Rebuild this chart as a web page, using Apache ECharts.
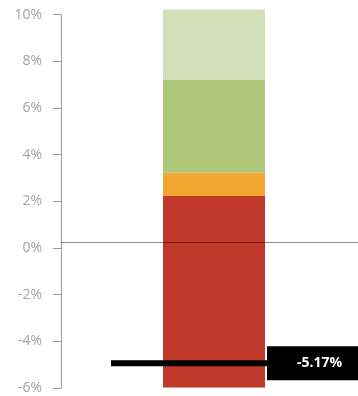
<!DOCTYPE html>
<html>
<head>
<meta charset="utf-8">
<script src="https://cdn.jsdelivr.net/npm/echarts@6/dist/echarts.min.js"></script>
<style>
  html, body { margin: 0; padding: 0; background: #fff; }
  #chart { width: 358px; height: 396px; }
</style>
</head>
<body>
<div id="chart"></div>
<script>
// Value axis ticks (percent)
const axisMin = -6;
const axisMax = 10;
const axisStep = 2;

// One column of stacked ranges, bottom to top
const categories = [''];
const bandLow  = [-6.2, 2, 3, 7];
const bandHigh = [2, 3, 7, 10];
const bandColors = ['#c0392b', '#f2a630', '#aec779', '#d3dfb6'];

// Reference line and current value marker
const zeroLine = 0;
const markerValue = -5.17;

const chart = echarts.init(document.getElementById('chart'), null, { renderer: 'canvas' });

const bandData = bandLow.map((lo, i) => [0, lo, bandHigh[i], i]);

chart.setOption({
  animation: false,
  grid: [
    { left: 61, width: 306, top: 14.7, bottom: 8, outerBoundsMode: 'none', containLabel: false },
    { left: 61, width: 306, top: 9.4, bottom: 8.6, outerBoundsMode: 'none', containLabel: false }
  ],
  xAxis: [
    { type: 'category', data: categories, gridIndex: 0, show: false },
    { type: 'category', data: categories, gridIndex: 1, show: false }
  ],
  yAxis: [
    {
      type: 'value', gridIndex: 0,
      min: axisMin, max: axisMax, interval: axisStep,
      axisLine: { show: true, lineStyle: { color: '#9a9a9a', width: 1 } },
      axisTick: { show: true, length: 8, lineStyle: { color: '#9a9a9a' } },
      splitLine: { show: false },
      axisLabel: {
        color: '#a3a3a3', fontSize: 14, fontFamily: 'Open Sans', margin: 19,
        formatter: '{value}%'
      }
    },
    {
      type: 'value', gridIndex: 1,
      min: -6.2, max: axisMax, show: false,
      splitLine: { show: false }
    }
  ],
  series: [
    {
      type: 'custom',
      xAxisIndex: 1, yAxisIndex: 1,
      data: bandData,
      encode: { x: 0, y: [1, 2] },
      clip: false,
      renderItem: function (params, api) {
        const top = api.coord([api.value(0), api.value(2)]);
        const bottom = api.coord([api.value(0), api.value(1)]);
        const w = api.size([1, 0])[0] / 3;
        return {
          type: 'rect',
          shape: { x: top[0] - w / 2, y: top[1], width: w, height: bottom[1] - top[1] },
          style: { fill: bandColors[api.value(3)] }
        };
      },
      markLine: {
        silent: true,
        symbol: 'none',
        label: { show: false },
        lineStyle: {
          color: 'rgba(0,0,0,0.45)', width: 1, type: 'solid', opacity: 1,
          shadowColor: 'rgba(0,0,0,0.12)', shadowBlur: 6, shadowOffsetY: 4
        },
        data: [{ yAxis: zeroLine }]
      },
      z: 2
    },
    {
      type: 'scatter',
      xAxisIndex: 1, yAxisIndex: 1,
      data: [[0, markerValue]],
      symbol: 'rect',
      symbolSize: [206, 6],
      clip: false,
      itemStyle: { color: '#000', opacity: 1 },
      label: {
        show: true,
        position: [156, 3],
        align: 'left',
        verticalAlign: 'middle',
        formatter: function (p) { return p.value[1].toFixed(2) + '%'; },
        color: '#fff',
        opacity: 1,
        fontFamily: 'Open Sans',
        fontWeight: 'bold',
        fontSize: 14,
        lineHeight: 14,
        backgroundColor: '#000',
        padding: [10, 30, 10, 30]
      },
      z: 5
    }
  ]
});
</script>
</body>
</html>
